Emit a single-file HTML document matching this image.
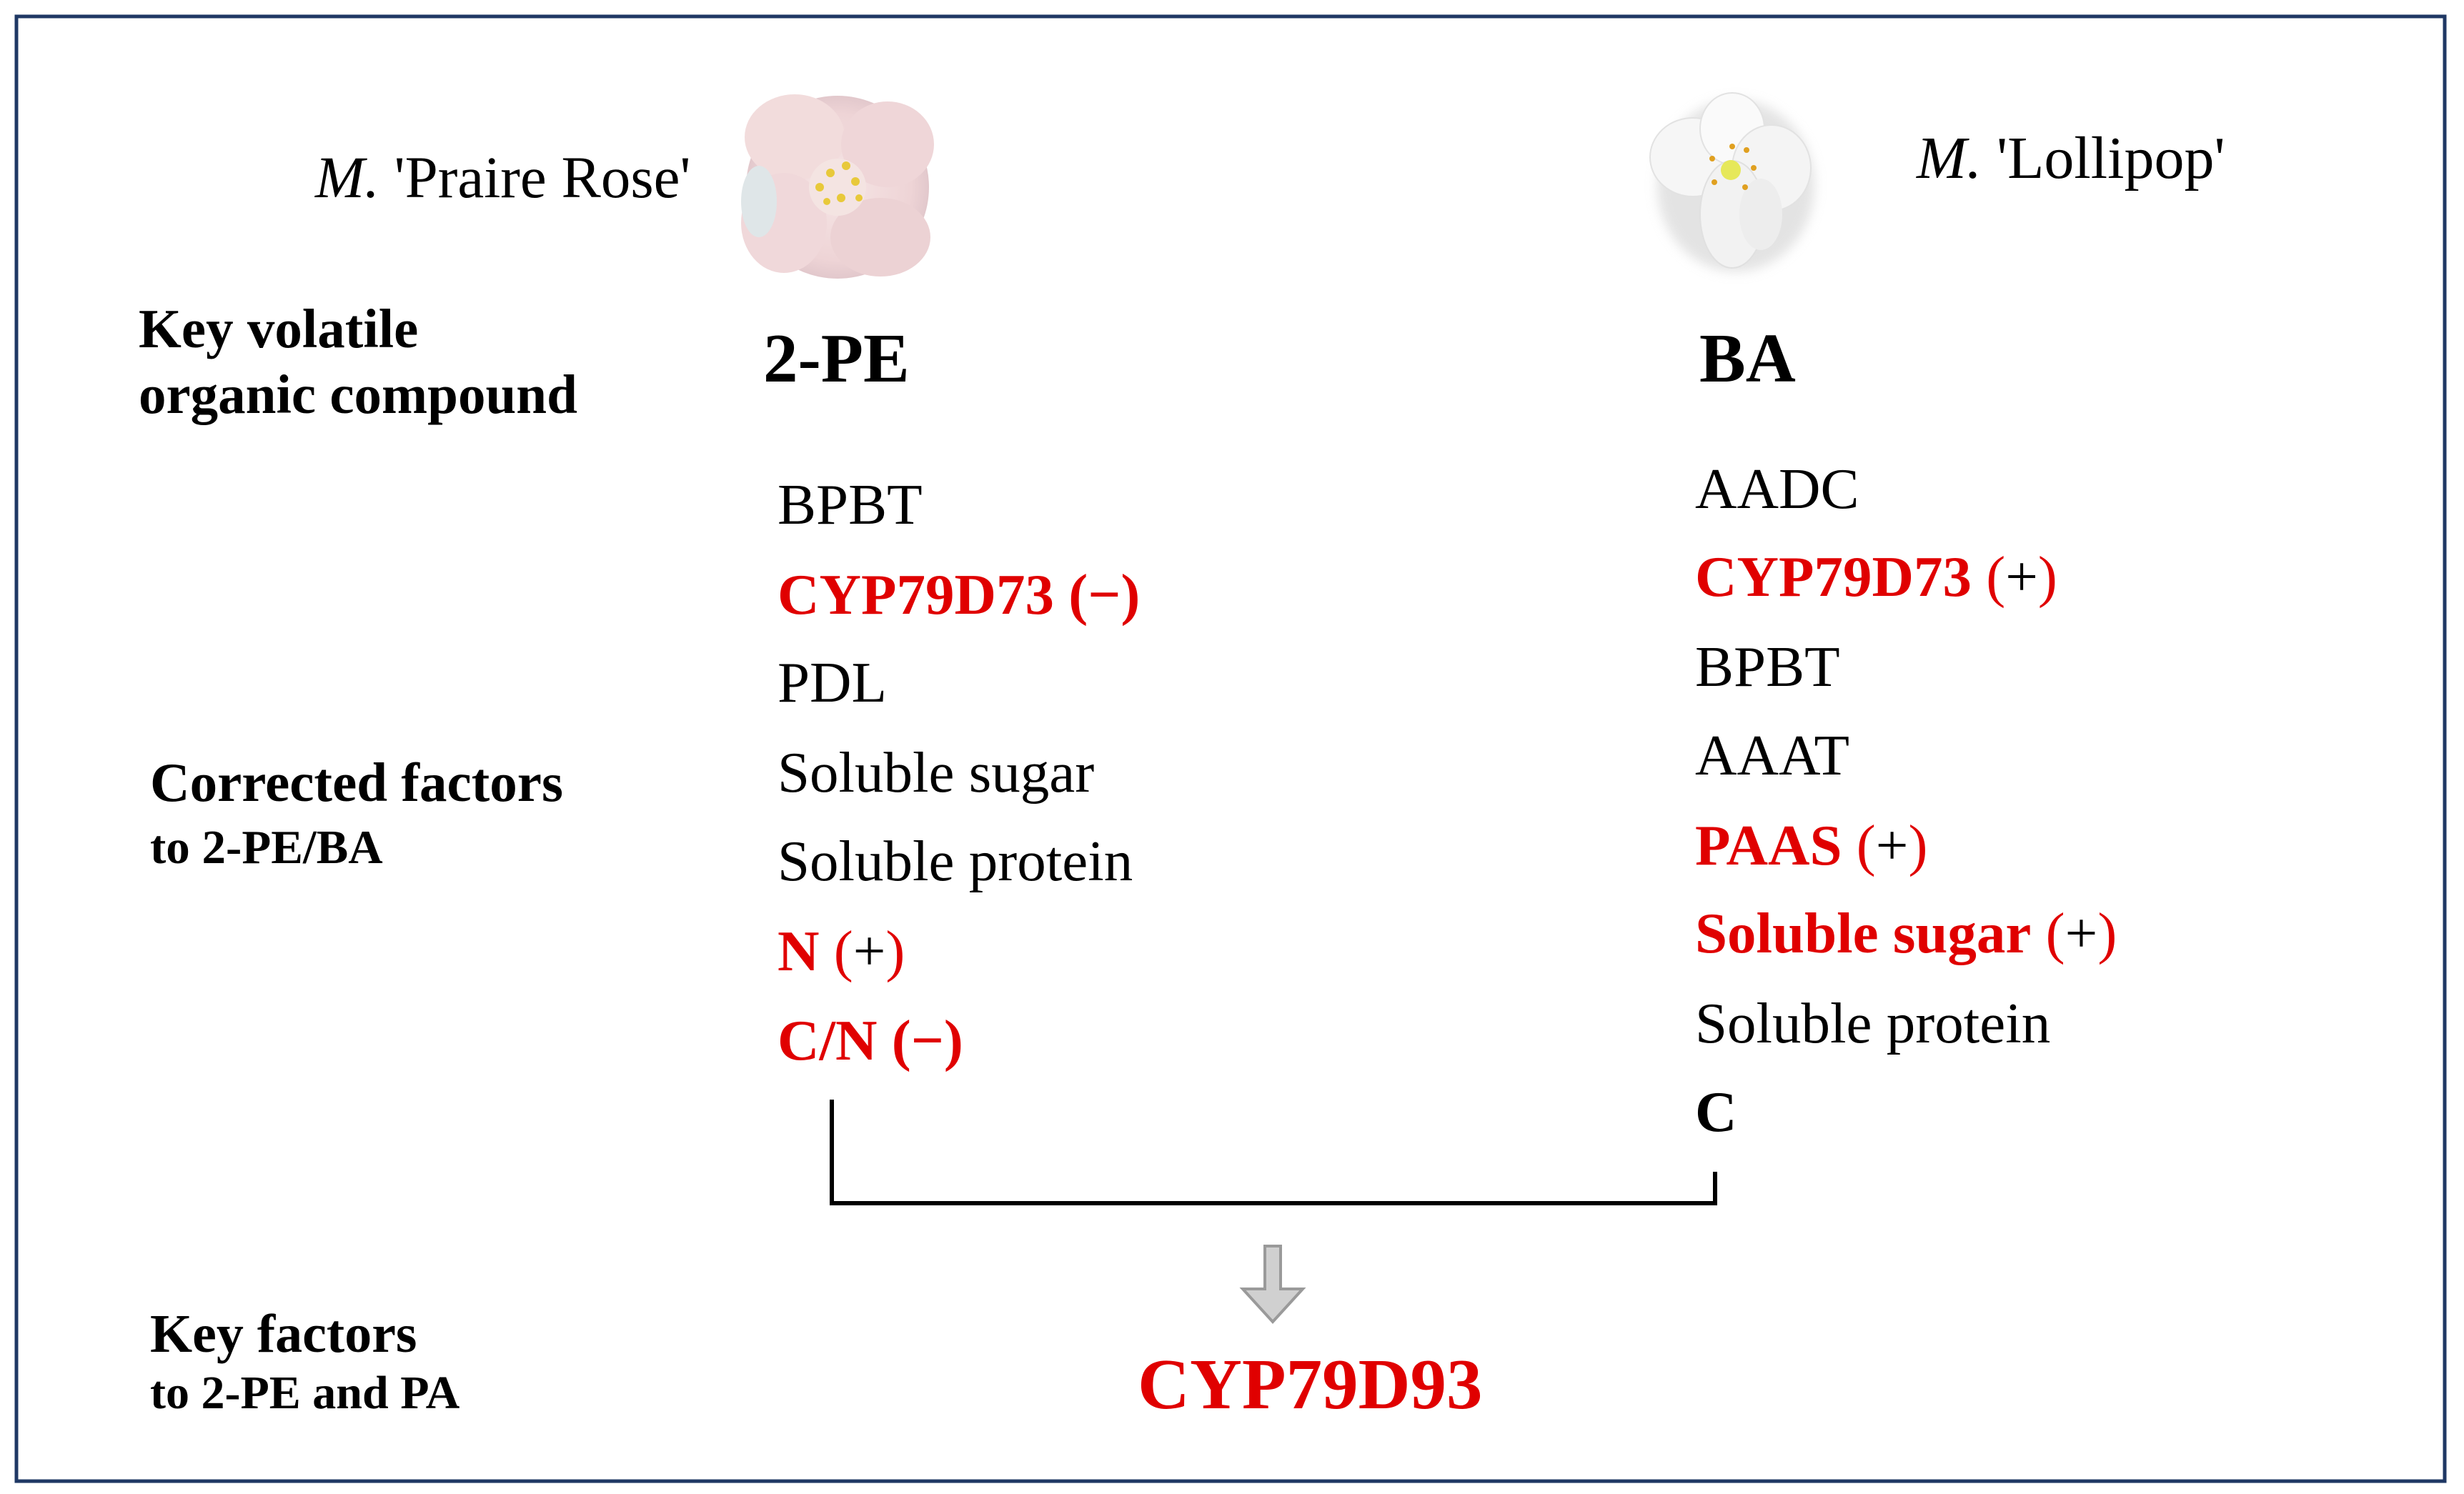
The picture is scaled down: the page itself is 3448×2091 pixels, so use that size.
<!DOCTYPE html>
<html><head><meta charset="utf-8"><style>
html,body{margin:0;padding:0;background:#fff;}
svg{display:block;}
text{font-family:"Liberation Serif","Times New Roman",serif;}
.b{font-weight:bold;}
.r{fill:#e00000;}
</style></head><body>
<svg width="3448" height="2091" viewBox="0 0 3448 2091" xmlns="http://www.w3.org/2000/svg">
<defs>
<radialGradient id="pk" cx="50%" cy="50%" r="50%"><stop offset="0" stop-color="#f6e6e6"/><stop offset="0.8" stop-color="#eed4d6"/><stop offset="1" stop-color="#e2c8cc"/></radialGradient>
<filter id="sh" x="-30%" y="-30%" width="160%" height="160%"><feGaussianBlur stdDeviation="8"/></filter>
</defs>
<rect x="23" y="23" width="3398" height="2050" fill="#fff" stroke="#1f3864" stroke-width="5"/>

<g transform="translate(1172,262)">
<circle r="128" fill="url(#pk)"/>
<ellipse cx="-60" cy="-70" rx="70" ry="60" fill="#f2dcdc"/>
<ellipse cx="70" cy="-60" rx="65" ry="60" fill="#efd6d8"/>
<ellipse cx="-75" cy="50" rx="60" ry="70" fill="#f0d8da"/>
<ellipse cx="60" cy="70" rx="70" ry="55" fill="#ecd2d4"/>
<ellipse cx="-110" cy="20" rx="25" ry="50" fill="#dfe6e8"/>
<circle r="40" fill="#f4e4e2"/>
<g fill="#e8c93a"><circle cx="-10" cy="-20" r="6"/><circle cx="12" cy="-30" r="6"/><circle cx="25" cy="-8" r="6"/><circle cx="-25" cy="0" r="6"/><circle cx="5" cy="15" r="6"/><circle cx="30" cy="15" r="5"/><circle cx="-15" cy="20" r="5"/></g>
</g>

<g transform="translate(2424,240)">
<ellipse cx="5" cy="20" rx="110" ry="120" fill="#c8c8c8" opacity="0.5" filter="url(#sh)"/>
<ellipse cx="-55" cy="-20" rx="60" ry="55" fill="#f6f6f6" stroke="#e2e2e2" stroke-width="2"/>
<ellipse cx="0" cy="-60" rx="45" ry="50" fill="#fafafa" stroke="#e2e2e2" stroke-width="2"/>
<ellipse cx="55" cy="-5" rx="55" ry="60" fill="#f4f4f4" stroke="#e2e2e2" stroke-width="2"/>
<ellipse cx="0" cy="60" rx="45" ry="75" fill="#f2f2f2" stroke="#e0e0e0" stroke-width="2"/>
<ellipse cx="40" cy="60" rx="30" ry="50" fill="#ededed"/>
<circle cx="-2" cy="-2" r="14" fill="#e6e85a"/>
<g fill="#e0a020"><circle cx="-28" cy="-18" r="4"/><circle cx="20" cy="-30" r="4"/><circle cx="30" cy="-5" r="4"/><circle cx="-25" cy="15" r="4"/><circle cx="18" cy="22" r="4"/><circle cx="0" cy="-35" r="4"/></g>
</g>

<text x="441" y="276" font-size="83"><tspan font-style="italic">M.</tspan> 'Praire Rose'</text>
<text x="2682" y="249" font-size="84"><tspan font-style="italic">M.</tspan> 'Lollipop'</text>

<text class="b" x="194" y="486" font-size="77">Key volatile</text>
<text class="b" x="194" y="578" font-size="77">organic compound</text>
<text class="b" x="1068" y="534" font-size="97">2-PE</text>
<text class="b" x="2378" y="534" font-size="97">BA</text>

<g font-size="81">
<text x="1088" y="733">BPBT</text>
<text x="1088" y="859" class="b r">CYP79D73 (−)</text>
<text x="1088" y="982">PDL</text>
<text x="1088" y="1108">Soluble sugar</text>
<text x="1088" y="1232">Soluble protein</text>
<text x="1088" y="1358"><tspan class="b r">N</tspan> <tspan class="r">(</tspan>+<tspan class="r">)</tspan></text>
<text x="1088" y="1483" class="b r">C/N (−)</text>

<text x="2372" y="711">AADC</text>
<text x="2372" y="834"><tspan class="b r">CYP79D73</tspan> <tspan class="r">(</tspan>+<tspan class="r">)</tspan></text>
<text x="2372" y="960">BPBT</text>
<text x="2372" y="1084">AAAT</text>
<text x="2372" y="1210"><tspan class="b r">PAAS</tspan> <tspan class="r">(</tspan>+<tspan class="r">)</tspan></text>
<text x="2372" y="1333"><tspan class="b r">Soluble sugar</tspan> <tspan class="r">(</tspan>+<tspan class="r">)</tspan></text>
<text x="2372" y="1459">Soluble protein</text>
<text x="2372" y="1583" class="b">C</text>
</g>

<text class="b" x="210" y="1121" font-size="77">Corrected factors</text>
<text class="b" x="210" y="1208" font-size="67">to 2-PE/BA</text>
<text class="b" x="210" y="1892" font-size="76">Key factors</text>
<text class="b" x="210" y="1971" font-size="66">to 2-PE and PA</text>

<path d="M1164,1539 V1684 H2400 V1640" fill="none" stroke="#000" stroke-width="6"/>

<path d="M1770,1744 H1792 V1804 H1823 L1781,1850 L1739,1804 H1770 Z" fill="#d0d0d0" stroke="#9a9a9a" stroke-width="4"/>

<text class="b r" x="1592" y="1971" font-size="101">CYP79D93</text>
</svg>
</body></html>
